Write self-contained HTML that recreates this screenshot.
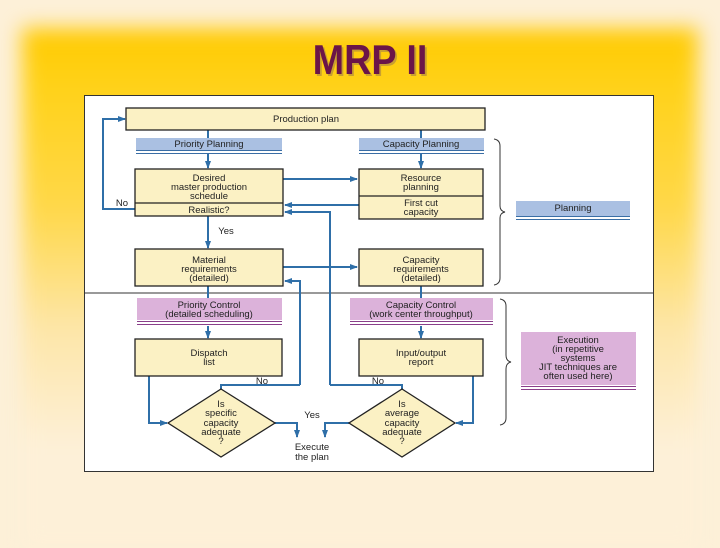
<!DOCTYPE html>
<html><head><meta charset="utf-8"><style>
html,body{margin:0;padding:0;}
body{width:720px;height:540px;position:relative;overflow:hidden;background:#fdf0d8;font-family:"Liberation Sans",sans-serif;}
.panel{position:absolute;left:22px;top:28px;width:676px;height:520px;background:linear-gradient(#ffca00 0px,#ffd21a 60px,#ffd84a 180px,#fde6a8 300px,#fdf0d8 420px);filter:blur(10px);}
.title{position:absolute;left:10px;width:720px;top:36px;text-align:center;font-weight:bold;font-size:42px;color:#6b1548;text-shadow:2px 2px 0 #c9a030;transform:scaleX(0.9);}
svg{position:absolute;left:0;top:0;}
text{font-family:"Liberation Sans",sans-serif;font-size:9.5px;fill:#222;text-anchor:middle;}
</style></head><body>
<div class="panel"></div>
<div class="title">MRP II</div>
<svg width="720" height="540" viewBox="0 0 720 540">
<defs><marker id="a" markerWidth="8" markerHeight="6" refX="7" refY="3" orient="auto" markerUnits="userSpaceOnUse"><path d="M0,0 L8,3 L0,6 Z" fill="#2f6fa8"/></marker></defs>
<rect x="84.5" y="95.5" width="569" height="376" fill="#fff" stroke="#333"/>
<line x1="84" y1="293" x2="654" y2="293" stroke="#333"/>
<g stroke="#2f6fa8" stroke-width="2" fill="none">
<line x1="208" y1="130" x2="208" y2="138"/><line x1="421" y1="130" x2="421" y2="138"/>
<line x1="208" y1="154" x2="208" y2="168" marker-end="url(#a)"/><line x1="421" y1="154" x2="421" y2="168" marker-end="url(#a)"/>
<polyline points="135,209 103,209 103,119 125,119" marker-end="url(#a)"/>
<line x1="283" y1="179" x2="357" y2="179" marker-end="url(#a)"/>
<line x1="359" y1="205" x2="285" y2="205" marker-end="url(#a)"/>
<polyline points="330,385 330,212 285,212" marker-end="url(#a)"/>
<line x1="208" y1="216" x2="208" y2="248" marker-end="url(#a)"/>
<line x1="283" y1="267" x2="357" y2="267" marker-end="url(#a)"/>
<polyline points="300,385 300,281 285,281" marker-end="url(#a)"/>
<line x1="208" y1="286" x2="208" y2="298"/><line x1="421" y1="286" x2="421" y2="298"/>
<line x1="208" y1="326" x2="208" y2="338" marker-end="url(#a)"/><line x1="421" y1="326" x2="421" y2="338" marker-end="url(#a)"/>
<polyline points="149,376 149,423 167,423" marker-end="url(#a)"/>
<polyline points="473,376 473,423 456,423" marker-end="url(#a)"/>
<polyline points="221,389 221,385 300,385"/>
<polyline points="402,389 402,385 330,385"/>
<polyline points="275,423 297,423 297,437" marker-end="url(#a)"/>
<polyline points="349,423 325,423 325,437" marker-end="url(#a)"/>
</g>
<g stroke="#222" stroke-width="1.3" fill="#fbf1c4">
<rect x="126" y="108" width="359" height="22"/>
<rect x="135" y="169" width="148" height="47"/><line x1="135" y1="203" x2="283" y2="203"/>
<rect x="359" y="169" width="124" height="50"/><line x1="359" y1="196" x2="483" y2="196"/>
<rect x="135" y="249" width="148" height="37"/>
<rect x="359" y="249" width="124" height="37"/>
<rect x="135" y="339" width="147" height="37"/>
<rect x="359" y="339" width="124" height="37"/>
<polygon points="221,389 275,423 221,457 168,423"/>
<polygon points="402,389 455,423 402,457 349,423"/>
</g>
<g fill="#aac0e2"><rect x="136" y="138" width="146" height="12"/><rect x="359" y="138" width="125" height="12"/><rect x="516" y="201" width="114" height="15"/></g>
<g stroke="#3a6ea5" stroke-width="1"><line x1="136" y1="150.5" x2="282" y2="150.5"/><line x1="136" y1="153.5" x2="282" y2="153.5"/><line x1="359" y1="150.5" x2="484" y2="150.5"/><line x1="359" y1="153.5" x2="484" y2="153.5"/><line x1="516" y1="216.5" x2="630" y2="216.5"/><line x1="516" y1="219.5" x2="630" y2="219.5"/></g>
<g fill="#dcb2da"><rect x="137" y="298" width="145" height="22"/><rect x="350" y="298" width="143" height="22"/><rect x="521" y="332" width="115" height="53"/></g>
<g stroke="#8a3f8a" stroke-width="1"><line x1="137" y1="321.5" x2="282" y2="321.5"/><line x1="137" y1="324.5" x2="282" y2="324.5"/><line x1="350" y1="321.5" x2="493" y2="321.5"/><line x1="350" y1="324.5" x2="493" y2="324.5"/><line x1="521" y1="386.5" x2="636" y2="386.5"/><line x1="521" y1="389.5" x2="636" y2="389.5"/></g>
<g stroke="#333" fill="none" stroke-width="1"><path d="M494,139 Q500,140 500,146 L500,206 Q500,211 505,212 Q500,213 500,218 L500,278 Q500,284 494,285"/><path d="M500,299 Q506,300 506,306 L506,355 Q506,361 511,362 Q506,363 506,369 L506,418 Q506,424 500,425"/></g>
<text x="306" y="122">Production plan</text>
<text x="209" y="147">Priority Planning</text><text x="421" y="147">Capacity Planning</text>
<text x="209" y="181">Desired</text><text x="209" y="190">master production</text><text x="209" y="199">schedule</text>
<text x="209" y="213">Realistic?</text><text x="122" y="206">No</text>
<text x="421" y="181">Resource</text><text x="421" y="190">planning</text>
<text x="421" y="206">First cut</text><text x="421" y="215">capacity</text>
<text x="226" y="234">Yes</text>
<text x="209" y="263">Material</text><text x="209" y="272">requirements</text><text x="209" y="281">(detailed)</text>
<text x="421" y="263">Capacity</text><text x="421" y="272">requirements</text><text x="421" y="281">(detailed)</text>
<text x="573" y="211">Planning</text>
<text x="209" y="308">Priority Control</text><text x="209" y="317">(detailed scheduling)</text>
<text x="421" y="308">Capacity Control</text><text x="421" y="317">(work center throughput)</text>
<text x="209" y="356">Dispatch</text><text x="209" y="365">list</text>
<text x="421" y="356">Input/output</text><text x="421" y="365">report</text>
<text x="262" y="384">No</text><text x="378" y="384">No</text>
<text x="221" y="407">Is</text><text x="221" y="416">specific</text><text x="221" y="426">capacity</text><text x="221" y="435">adequate</text><text x="221" y="444">?</text>
<text x="402" y="407">Is</text><text x="402" y="416">average</text><text x="402" y="426">capacity</text><text x="402" y="435">adequate</text><text x="402" y="444">?</text>
<text x="312" y="418">Yes</text>
<text x="312" y="450">Execute</text><text x="312" y="460">the plan</text>
<text x="578" y="343">Execution</text><text x="578" y="352">(in repetitive</text><text x="578" y="361">systems</text><text x="578" y="370">JIT techniques are</text><text x="578" y="379">often used here)</text>
</svg>
</body></html>
